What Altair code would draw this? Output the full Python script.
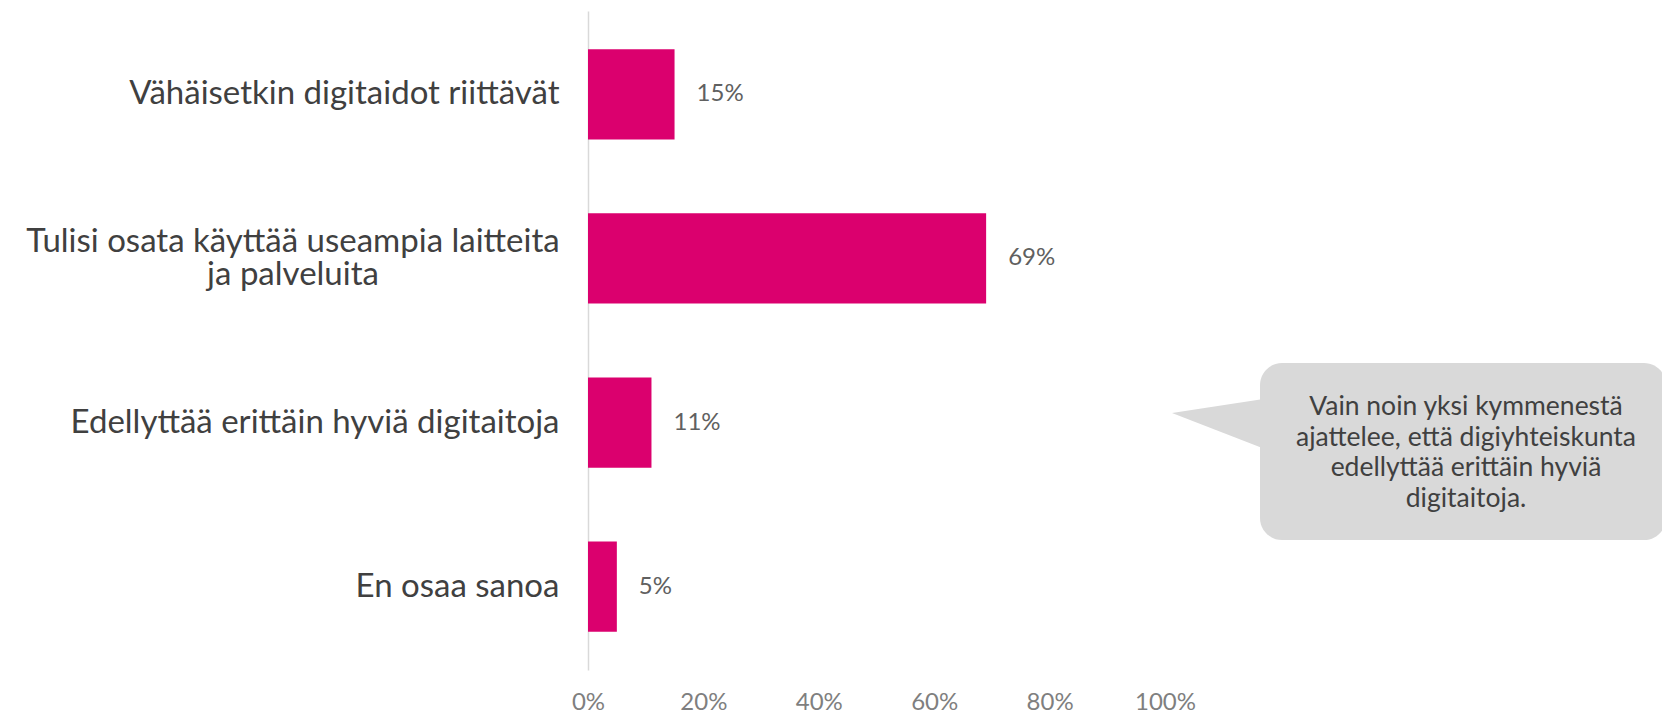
import altair as alt
import pandas as pd

categories = [
    "Vähäisetkin digitaidot riittävät",
    "Tulisi osata käyttää useampia laitteita ja palveluita",
    "Edellyttää erittäin hyviä digitaitoja",
    "En osaa sanoa",
]
two_line_label = ["Tulisi osata käyttää useampia laitteita", "ja palveluita"]
values = [15, 69, 11, 5]
value_labels = ["15%", "69%", "11%", "5%"]
x_ticks = [0, 20, 40, 60, 80, 100]
callout_lines = [
    "Vain noin yksi kymmenestä",
    "ajattelee, että digiyhteiskunta",
    "edellyttää erittäin hyviä",
    "digitaitoja.",
]

df = pd.DataFrame({"cat": categories, "value": values, "label": value_labels})

W, H = 1074, 659
PX_PER_100 = 577
FONT = "Lato"
CAT_SIZE = 33

y_enc = alt.Y(
    "cat:N",
    sort=categories,
    scale=alt.Scale(paddingInner=0.45, paddingOuter=0.233),
    axis=alt.Axis(
        title=None,
        labelExpr="indexof(datum.label, 'Tulisi') == 0 ? '' : datum.label",
        labelFont=FONT,
        labelFontSize=CAT_SIZE,
        labelColor="#404040",
        labelPadding=29,
        labelLimit=0,
        ticks=False,
        domainColor="#d9d9d9",
        domainWidth=1.5,
    ),
)
x_enc = alt.X(
    "value:Q",
    scale=alt.Scale(domain=[0, 100 * W / PX_PER_100], nice=False),
    axis=alt.Axis(
        title=None,
        values=x_ticks,
        labelExpr="datum.value + '%'",
        grid=False,
        domain=False,
        ticks=False,
        labelFlush=False,
        labelPadding=20,
        labelFont=FONT,
        labelFontSize=24,
        labelColor="#7f7f7f",
    ),
)

base = alt.Chart(df)
bars = base.mark_bar(color="#DB006E").encode(y=y_enc, x=x_enc)
texts = base.mark_text(
    align="left", baseline="middle", dx=22, font=FONT, fontSize=24, color="#606060"
).encode(y=alt.Y("cat:N", sort=categories), x="value:Q", text="label:N")

# centred two-line category label
two_line = base.transform_filter(
    alt.datum.cat == categories[1]
).mark_text(
    text=two_line_label,
    align="center",
    baseline="middle",
    lineHeight=33,
    dy=-16.5,
    font=FONT,
    fontSize=CAT_SIZE,
    color="#404040",
).encode(y=alt.Y("cat:N", sort=categories), x=alt.value(-295))

main = alt.layer(bars, texts, two_line)

one = pd.DataFrame({"a": [0]})
box = alt.Chart(one).mark_rect(color="#d9d9d9", cornerRadius=22).encode(
    x=alt.value(672), x2=alt.value(1078), y=alt.value(352), y2=alt.value(529)
)
tri_df = pd.DataFrame({"px": [584, 682], "py": [402, 387], "py2": [402, 440]})
tri = alt.Chart(tri_df).mark_area(color="#d9d9d9").encode(
    x=alt.X("px:Q", scale=None, axis=None),
    y=alt.Y("py:Q", scale=None, axis=None),
    y2="py2:Q",
)
ctext = alt.Chart(one).mark_text(
    text=callout_lines,
    align="center",
    baseline="middle",
    lineHeight=30.5,
    font=FONT,
    fontSize=26.5,
    color="#404040",
).encode(x=alt.value(878), y=alt.value(396))

chart = (
    alt.layer(main, tri, box, ctext)
    .resolve_scale(x="independent", y="independent")
    .properties(
        width=W,
        height=H,
        autosize=alt.AutoSizeParams(type="none"),
        padding={"left": 580, "top": 3, "right": 0, "bottom": 45},
    )
    .configure_view(stroke=None)
)

chart.save("out.html", embed_options={"renderer": "svg", "actions": False})
